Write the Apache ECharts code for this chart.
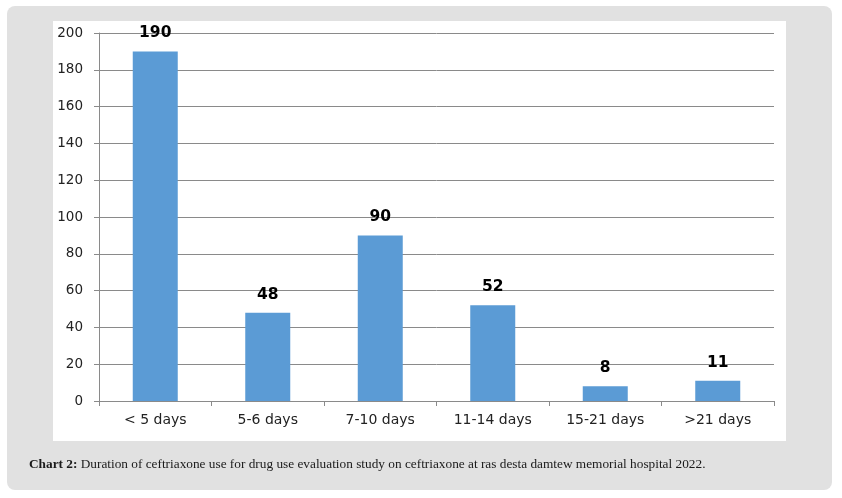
<!DOCTYPE html>
<html>
<head>
<meta charset="utf-8">
<script src="https://cdn.jsdelivr.net/npm/echarts@6/dist/echarts.min.js"></script>
<style>
html,body{margin:0;padding:0;background:#fff;}
#c{width:842px;height:498px;}
</style>
</head>
<body>
<div id="c"></div>
<script>
var categories = ["< 5 days", "5-6 days", "7-10 days", "11-14 days", "15-21 days", ">21 days"];
var values = [190, 48, 90, 52, 8, 11];
var yTicks = [0, 20, 40, 60, 80, 100, 120, 140, 160, 180, 200];
var captionBold = "Chart 2:";
var captionText = " Duration of ceftriaxone use for drug use evaluation study on ceftriaxone at ras desta damtew memorial hospital 2022.";

var chart = echarts.init(document.getElementById('c'), null, {renderer: 'canvas'});
chart.setOption({
  animation: false,
  backgroundColor: '#fff',
  graphic: [
    {type: 'rect', z: -10, shape: {x: 7, y: 6, width: 825, height: 484, r: 8}, style: {fill: '#e1e1e1'}},
    {type: 'rect', z: -9, shape: {x: 53, y: 21, width: 733, height: 420}, style: {fill: '#ffffff'}}
  ],
  title: {
    left: 24, top: 453,
    text: '{b|' + captionBold + '}{n|' + captionText + '}',
    textStyle: {
      fontWeight: 'normal',
      rich: {
        b: {fontFamily: 'Liberation Serif', fontSize: 13.3, fontWeight: 'bold', color: '#1a1a1a'},
        n: {fontFamily: 'Liberation Serif', fontSize: 13.3, fontWeight: 'normal', color: '#1a1a1a'}
      }
    }
  },
  grid: {left: 99, right: 68, top: 33, bottom: 97},
  xAxis: {
    type: 'category',
    data: categories,
    axisLine: {lineStyle: {color: '#8a8a8a', width: 1}},
    axisTick: {show: true, length: 5, alignWithLabel: false, lineStyle: {color: '#8a8a8a'}},
    axisLabel: {fontFamily: 'DejaVu Sans', fontSize: 14, color: '#222', margin: 12, interval: 0}
  },
  yAxis: {
    type: 'value',
    min: yTicks[0], max: yTicks[yTicks.length - 1], interval: yTicks[1] - yTicks[0],
    axisLine: {show: true, lineStyle: {color: '#8a8a8a'}},
    axisTick: {show: true, length: 5, lineStyle: {color: '#8a8a8a'}},
    axisLabel: {fontFamily: 'DejaVu Sans', fontSize: 13.5, color: '#222', margin: 16},
    splitLine: {lineStyle: {color: '#8a8a8a', width: 1}}
  },
  series: [{
    type: 'bar',
    data: values,
    barWidth: '40%',
    itemStyle: {color: '#5b9bd5'},
    label: {
      show: true, position: 'top', distance: 10,
      fontFamily: 'DejaVu Sans', fontWeight: 'bold', fontSize: 15.5, color: '#000'
    }
  }]
});
</script>
</body>
</html>
